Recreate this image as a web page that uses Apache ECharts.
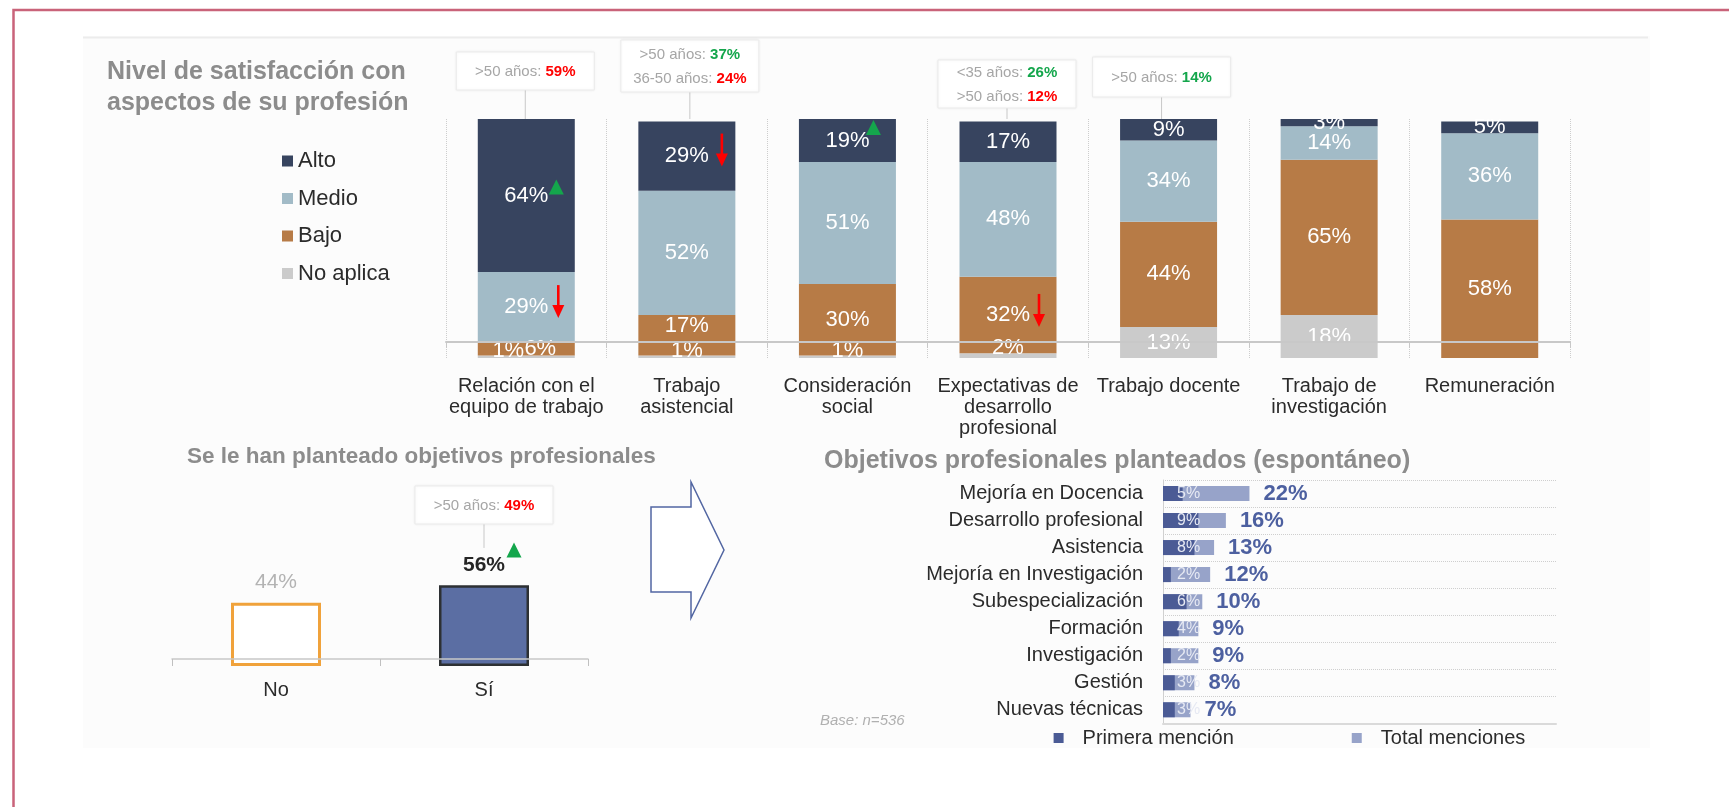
<!DOCTYPE html>
<html><head><meta charset="utf-8">
<script src="https://cdn.jsdelivr.net/npm/echarts@6/dist/echarts.min.js"></script>
<style>html,body{margin:0;padding:0;background:#fff}#chart{width:1729px;height:807px}</style>
</head><body><div id="chart"></div>
<script>
// ---------- DATA ----------
const satCategories = ['Relación con el\nequipo de trabajo', 'Trabajo\nasistencial', 'Consideración\nsocial', 'Expectativas de\ndesarrollo\nprofesional', 'Trabajo docente', 'Trabajo de\ninvestigación', 'Remuneración'];
const satLegend = ['Alto', 'Medio', 'Bajo', 'No aplica'];
const alto = [64, 29, 19, 17, 9, 3, 5];
const medio = [29, 52, 51, 48, 34, 14, 36];
const bajo = [6, 17, 30, 32, 44, 65, 58];
const noAplica = [1, 1, 1, 2, 13, 18, 0];

const objCategories = ['No', 'Sí'];
const objValues = [44, 56];

const goalCategories = ['Mejoría en Docencia', 'Desarrollo profesional', 'Asistencia', 'Mejoría en Investigación', 'Subespecialización', 'Formación', 'Investigación', 'Gestión', 'Nuevas técnicas'];
const primeraMencion = [5, 9, 8, 2, 6, 4, 2, 3, 3];
const totalMenciones = [22, 16, 13, 12, 10, 9, 9, 8, 7];

// annotation boxes: [label, value, sign]
const annoTexts = [
  [['>50 años: ', '59%', 'neg']],
  [['>50 años: ', '37%', 'pos'], ['36-50 años: ', '24%', 'neg']],
  [['<35 años: ', '26%', 'pos'], ['>50 años: ', '12%', 'neg']],
  [['>50 años: ', '14%', 'pos']],
  [['>50 años: ', '49%', 'neg']]
];

// ---------- STYLE / LAYOUT ----------
const FONT = '"Liberation Sans", Arial, Helvetica, sans-serif';
const TXT = '#2b2b2b';
const GREEN = '#14a64c';
const RED = '#ff0000';
const satColors = { 'Alto': '#37445f', 'Medio': '#a2bbc7', 'Bajo': '#b77b46', 'No aplica': '#cbcbcb' };
const satLabelOffsets = {
  'No aplica': { 0: [-18, -6], 1: [0, -6], 2: [0, -6], 3: [0, -8] },
  'Bajo': { 0: [14, 0], 1: [0, -9] }
};
const objItemStyles = [
  { color: '#ffffff', borderColor: '#f0a23b', borderWidth: 3 },
  { color: '#5b6ea3', borderColor: '#2d3033', borderWidth: 2.5 }
];
const objLabelStyles = [
  { color: '#b3b3b3', fontWeight: 'normal' },
  { color: '#262626', fontWeight: 'bold' }
];
const annoLayout = [
  { g: 0, cat: 0, top: 52, h: 38, dx: -1, toVal: 100 },
  { g: 0, cat: 1, top: 40, h: 52, dx: 3, toVal: 100 },
  { g: 0, cat: 3, top: 60, h: 48, dx: -1, toVal: 100 },
  { g: 0, cat: 4, top: 57, h: 40, dx: -7, toVal: 100 },
  { g: 1, cat: 1, top: 486, h: 38, dx: 0, toVal: 82 }
];
const markerLayout = [
  { g: 0, cat: 0, val: 71.5, dx: 30, kind: 'up' },
  { g: 0, cat: 0, val: 23.6, dx: 32, kind: 'down' },
  { g: 0, cat: 1, val: 87, dx: 35, kind: 'down' },
  { g: 0, cat: 2, val: 96.4, dx: 26, kind: 'up' },
  { g: 0, cat: 3, val: 19.9, dx: 31, kind: 'down' },
  { g: 1, cat: 1, val: 80.5, dx: 30, kind: 'up' }
];

const chart = echarts.init(document.getElementById('chart'));

const satSeriesData = { 'Alto': alto, 'Medio': medio, 'Bajo': bajo, 'No aplica': noAplica };
const stackOrder = ['No aplica', 'Bajo', 'Medio', 'Alto'];

const satSeries = stackOrder.map(name => ({
  type: 'bar', name: name, stack: 'sat', xAxisIndex: 0, yAxisIndex: 0,
  barWidth: 97, itemStyle: { color: satColors[name] },
  label: { show: true, position: 'inside', color: '#fff', fontSize: 22, fontFamily: FONT,
    formatter: p => p.value ? p.value + '%' : '' },
  data: satSeriesData[name].map((v, i) => {
    const off = satLabelOffsets[name] && satLabelOffsets[name][i];
    return off ? { value: v, label: { offset: off } } : v;
  })
}));

const option = {
  backgroundColor: '#ffffff',
  animation: false,
  textStyle: { fontFamily: FONT },
  title: [
    { text: 'Nivel de satisfacción con\naspectos de su profesión', left: 107, top: 56.5, padding: 0,
      textStyle: { fontSize: 25, fontWeight: 'bold', color: '#8c8c8c', lineHeight: 31, fontFamily: FONT } },
    { text: 'Se le han planteado objetivos profesionales', left: 187, top: 445, padding: 0,
      textStyle: { fontSize: 22.5, fontWeight: 'bold', color: '#8c8c8c', lineHeight: 24, fontFamily: FONT } },
    { text: 'Objetivos profesionales planteados (espontáneo)', left: 824, top: 447, padding: 0,
      textStyle: { fontSize: 25, fontWeight: 'bold', color: '#8c8c8c', lineHeight: 28, fontFamily: FONT } }
  ],
  legend: [
    { data: satLegend, orient: 'vertical', left: 282, top: 150, padding: 0, itemWidth: 11, itemHeight: 11,
      itemGap: 15.5, icon: 'rect', selectedMode: false,
      textStyle: { fontSize: 22, lineHeight: 22, color: TXT, fontFamily: FONT } },
    { data: ['Primera mención', 'Total menciones'], orient: 'horizontal', left: 1053.6, top: 728, padding: 0,
      itemWidth: 10, itemHeight: 10, itemGap: 118, icon: 'rect', selectedMode: false,
      textStyle: { fontSize: 20, lineHeight: 20, color: TXT, fontFamily: FONT, padding: [0, 0, 0, 14] } }
  ],
  grid: [
    { left: 446, right: 159, top: 119, bottom: 449, outerBoundsMode: 'none', containLabel: false },
    { left: 172, right: 1141, top: 522, bottom: 141, outerBoundsMode: 'none', containLabel: false },
    { left: 1163, right: 173, top: 480, bottom: 83.7, outerBoundsMode: 'none', containLabel: false }
  ],
  xAxis: [
    { gridIndex: 0, type: 'category', data: satCategories, offset: -16, z: 10,
      axisLine: { show: true, lineStyle: { color: '#c8c8c8', width: 2 } },
      axisTick: { show: true, length: 6, lineStyle: { color: '#c8c8c8' } },
      axisLabel: { interval: 0, margin: 33.5, fontSize: 20, lineHeight: 21, color: TXT, fontFamily: FONT },
      splitLine: { show: true, interval: 0, lineStyle: { type: 'dotted', color: '#cdcdcd', width: 1 } } },
    { gridIndex: 1, type: 'category', data: objCategories, offset: -7, z: 10,
      axisLine: { show: true, lineStyle: { color: '#c8c8c8', width: 1.5 } },
      axisTick: { show: true, length: 7, lineStyle: { color: '#c0c0c0' } },
      axisLabel: { interval: 0, margin: 21.7, fontSize: 20, lineHeight: 20, color: TXT, fontFamily: FONT },
      splitLine: { show: false } },
    { gridIndex: 2, type: 'value', min: 0, max: 100,
      axisLine: { show: true, lineStyle: { color: '#dadada', width: 2 } },
      axisTick: { show: false }, axisLabel: { show: false }, splitLine: { show: false } }
  ],
  yAxis: [
    { gridIndex: 0, type: 'value', min: 0, max: 100, show: false },
    { gridIndex: 1, type: 'value', min: 0, max: 100, show: false },
    { gridIndex: 2, type: 'category', data: goalCategories, inverse: true,
      axisLine: { show: true, lineStyle: { color: '#d0d0d0', width: 1 } },
      axisTick: { show: false },
      axisLabel: { interval: 0, margin: 20, fontSize: 20, color: TXT, fontFamily: FONT },
      splitLine: { show: true, interval: 0, lineStyle: { type: 'dotted', color: '#cfcfcf', width: 1 } } }
  ],
  series: satSeries.concat([
    { type: 'bar', name: 'objetivos', xAxisIndex: 1, yAxisIndex: 1, barWidth: 90,
      label: { show: true, position: 'top', distance: 10, fontSize: 21, fontFamily: FONT, formatter: '{c}%' },
      data: objValues.map((v, i) => ({ value: v, itemStyle: objItemStyles[i], label: objLabelStyles[i] })) },
    { type: 'bar', name: 'Total menciones', xAxisIndex: 2, yAxisIndex: 2, barWidth: 15, barGap: '-100%',
      itemStyle: { color: '#97a3c9' },
      label: { show: true, position: 'right', distance: 14, fontSize: 22, fontWeight: 'bold', color: '#4d60a0',
        fontFamily: FONT, formatter: '{c}%' },
      data: totalMenciones },
    { type: 'bar', name: 'Primera mención', xAxisIndex: 2, yAxisIndex: 2, barWidth: 15, barGap: '-100%',
      itemStyle: { color: '#4b5b95' },
      label: { show: true, position: [14, '50%'], align: 'left', verticalAlign: 'middle', fontSize: 16,
        color: '#e6e9f3', fontFamily: FONT, formatter: '{c}%' },
      data: primeraMencion }
  ])
};
chart.setOption(option);

// ---------- DECORATIONS ----------
function px(g, cat, val) {
  return chart.convertToPixel({ xAxisIndex: g, yAxisIndex: g }, [cat, val]);
}
const els = [];
// page frame and slide background
els.push({ type: 'rect', z: -20, silent: true, shape: { x: 83, y: 36, width: 1567, height: 712 }, style: { fill: '#fcfcfc' } });
els.push({ type: 'line', z: -19, silent: true, shape: { x1: 83, y1: 37.5, x2: 1648, y2: 37.5 }, style: { stroke: '#ececec', lineWidth: 2 } });
els.push({ type: 'rect', z: 200, silent: true, shape: { x: 13.5, y: 10, width: 1800, height: 900 }, style: { fill: null, stroke: '#c9637a', lineWidth: 2.5 } });

// crop masks around the stacked bars
const g0Bottom = px(0, 0, 0)[1];
const g0Top = px(0, 0, 100)[1];
const g0Left = px(0, 0, 0)[0] - 90, g0Right = px(0, 6, 0)[0] + 90;
els.push({ type: 'rect', z: 50, silent: true, shape: { x: g0Left, y: g0Bottom + 0.5, width: g0Right - g0Left, height: 15 }, style: { fill: '#fcfcfc' } });
els.push({ type: 'rect', z: 50, silent: true, shape: { x: g0Left, y: g0Top - 9, width: g0Right - g0Left, height: 9 }, style: { fill: '#fcfcfc' } });

// annotation boxes
const rich = {
  g: { fill: '#a6a6a6', fontSize: 15, fontFamily: FONT, lineHeight: 24.5 },
  pos: { fill: GREEN, fontSize: 15, fontWeight: 'bold', fontFamily: FONT, lineHeight: 24.5 },
  neg: { fill: RED, fontSize: 15, fontWeight: 'bold', fontFamily: FONT, lineHeight: 24.5 }
};
annoLayout.forEach((L, k) => {
  const anchor = px(L.g, L.cat, L.toVal);
  const cx = anchor[0] + L.dx;
  const w = 138;
  els.push({ type: 'line', z: 110, silent: true, shape: { x1: cx, y1: L.top + L.h, x2: cx, y2: anchor[1] }, style: { stroke: '#c8c8c8', lineWidth: 1 } });
  els.push({ type: 'rect', z: 110, silent: true, shape: { x: cx - w / 2, y: L.top, width: w, height: L.h },
    style: { fill: '#ffffff', stroke: '#ebebeb', lineWidth: 1, shadowBlur: 3, shadowColor: 'rgba(0,0,0,0.06)' } });
  const txt = annoTexts[k].map(l => '{g|' + l[0] + '}{' + l[2] + '|' + l[1] + '}').join('\n');
  els.push({ type: 'text', z: 111, silent: true, x: cx, y: L.top + L.h / 2 + 1,
    style: { text: txt, rich: rich, align: 'center', verticalAlign: 'middle', textAlign: 'center', textVerticalAlign: 'middle' } });
});

// significance markers
markerLayout.forEach(M => {
  const p = px(M.g, M.cat, M.val);
  const cx = p[0] + M.dx, cy = p[1];
  if (M.kind === 'up') {
    els.push({ type: 'polygon', z: 120, silent: true, shape: { points: [[cx - 7.5, cy + 7.5], [cx + 7.5, cy + 7.5], [cx, cy - 7.5]] }, style: { fill: GREEN } });
  } else {
    els.push({ type: 'rect', z: 120, silent: true, shape: { x: cx - 1.3, y: cy - 16.5, width: 2.6, height: 21 }, style: { fill: RED } });
    els.push({ type: 'polygon', z: 120, silent: true, shape: { points: [[cx - 6, cy + 3.5], [cx + 6, cy + 3.5], [cx, cy + 16.5]] }, style: { fill: RED } });
  }
});

// big outlined arrow between the two lower charts
els.push({ type: 'polygon', z: 5, silent: true,
  shape: { points: [[651, 507], [691, 507], [691, 482], [724, 550], [691, 618], [691, 592], [651, 592]] },
  style: { fill: '#ffffff', stroke: '#5266a2', lineWidth: 1.5 } });

// base note
els.push({ type: 'text', z: 10, silent: true, x: 820, y: 721,
  style: { text: 'Base: n=536', fill: '#b0b0b0', fontSize: 15, fontStyle: 'italic', fontFamily: FONT,
    align: 'left', verticalAlign: 'middle', textAlign: 'left', textVerticalAlign: 'middle' } });

chart.setOption({ graphic: { elements: els } });
</script></body></html>
